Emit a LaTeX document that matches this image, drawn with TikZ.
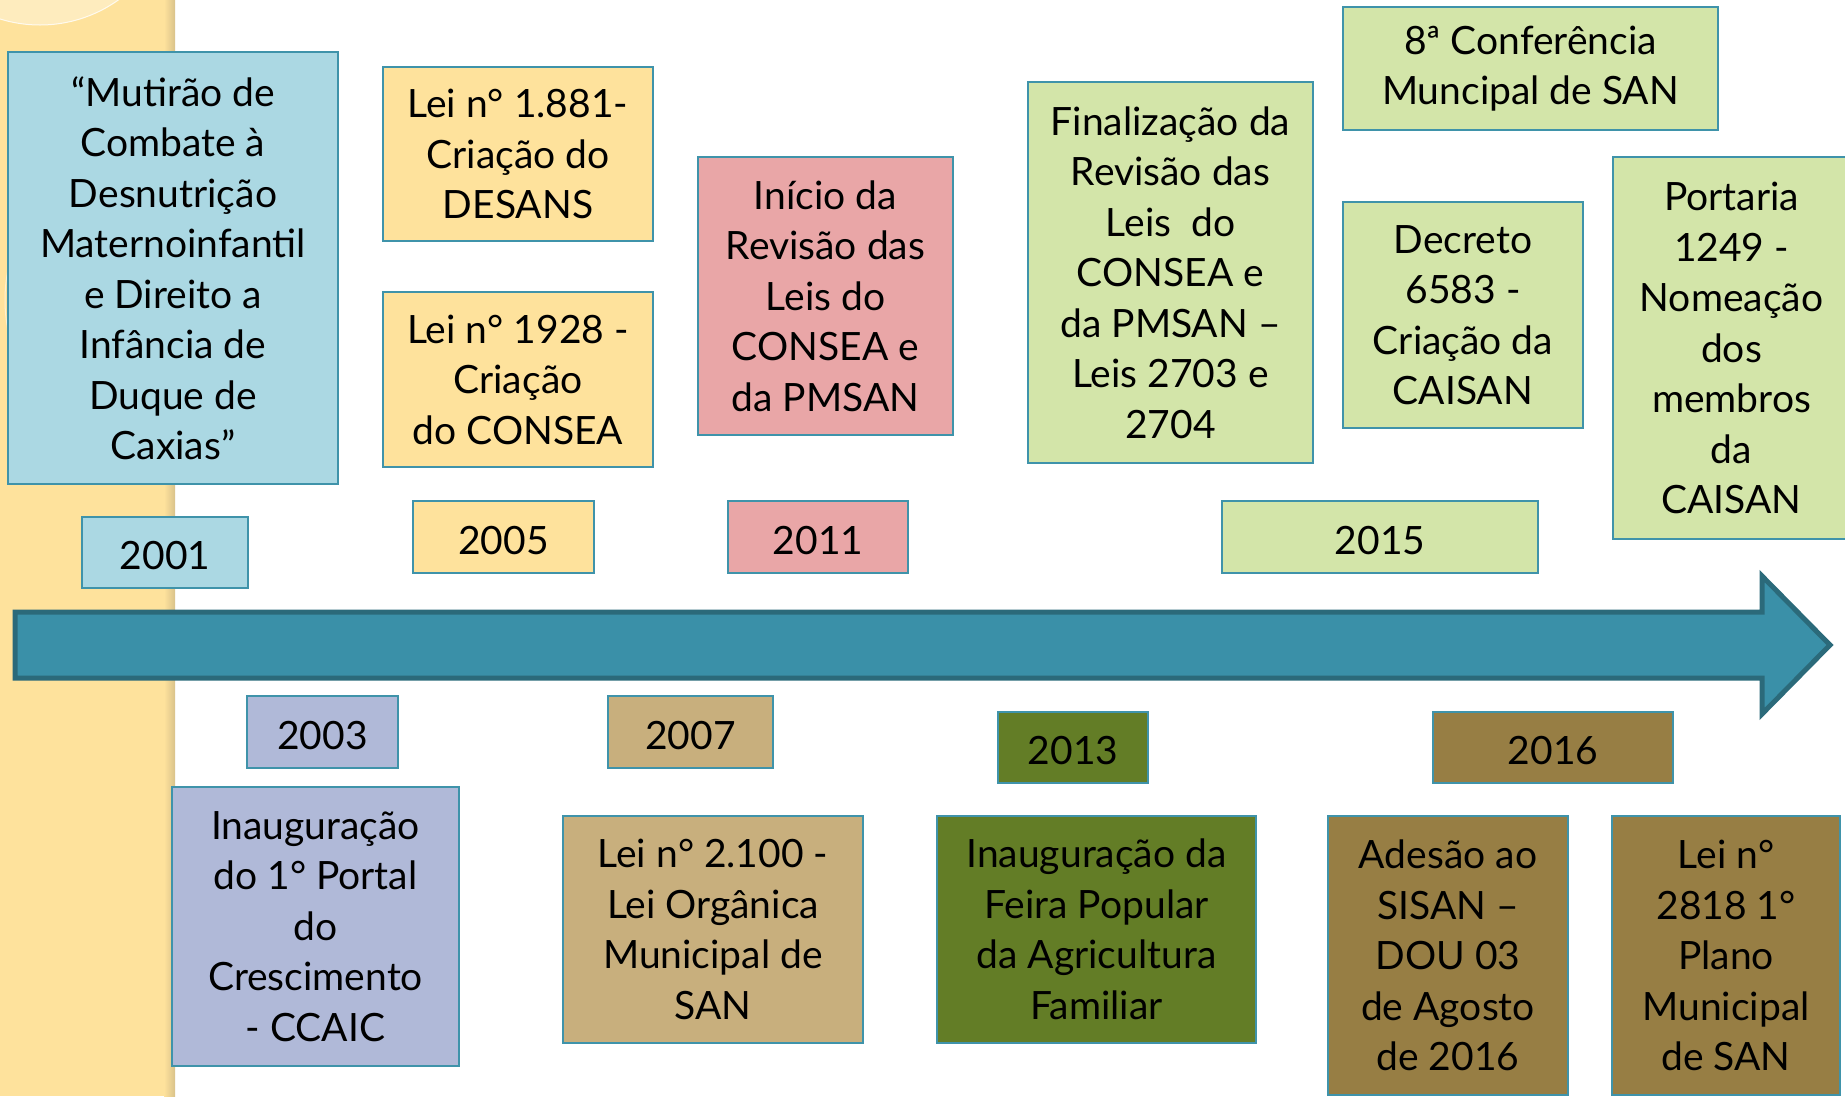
\documentclass[tikz,border=0pt]{standalone}
\usepackage{fontspec}
\setmainfont{Lato}
\usetikzlibrary{calc}
\definecolor{ltblue}{HTML}{ABD8E3}
\definecolor{yel}{HTML}{FEE29C}
\definecolor{strip}{HTML}{FEE29C}
\definecolor{stripdark}{HTML}{D9C28A}
\definecolor{pink}{HTML}{E9A6A7}
\definecolor{ltgreen}{HTML}{D3E5A9}
\definecolor{lav}{HTML}{B0B9D8}
\definecolor{tan}{HTML}{C8AF7D}
\definecolor{dkgreen}{HTML}{637D26}
\definecolor{olive}{HTML}{977E44}
\definecolor{bord}{HTML}{3F93AA}
\definecolor{arrowfill}{HTML}{3A90A8}
\definecolor{arrowline}{HTML}{2B6A7A}
\newcommand\bodyfont{\fontsize{39}{50.5}\selectfont}
\tikzset{
  evbox/.style={draw=bord, line width=2.5pt, align=center, inner sep=0pt, font=\bodyfont, text=black},
  yearbox/.style={evbox, text height=34pt, text depth=0pt}
}
\begin{document}
\begin{tikzpicture}[x=1pt,y=-1pt]
\useasboundingbox (0,0) rectangle (1845,1096);
\fill[white] (0,0) rectangle (1845,1096);
% left decorative strip
\fill[strip] (0,0) rectangle (175,1096);
\shade[left color=strip, right color=stripdark] (164,0) rectangle (175,1096);
\begin{scope}
\clip (0,0) rectangle (170,1096);
\fill[white, opacity=0.35] (40,-110) circle (135);
\draw[white, line width=1pt, opacity=0.8] (40,-110) circle (135);
\draw[white, line width=1pt, opacity=0.5] (160,300) circle (155);
\end{scope}
% main arrow
\draw[fill=arrowfill, draw=arrowline, line width=5pt, line join=miter]
  (15,612) -- (1762,612) -- (1762,576) -- (1830,645) -- (1762,714) -- (1762,678) -- (15,678) -- cycle;
% upper boxes
\node[evbox, fill=ltblue, minimum width=330, minimum height=432] (mutirao) at (173,268)
  {“Mutirão de\\Combate à\\Desnutrição\\Maternoinfantil\\e Direito a\\Infância de\\Duque de\\Caxias”};
\node[yearbox, fill=ltblue, minimum width=166, minimum height=71] (y2001) at (165,552.5) {2001};
\node[evbox, fill=yel, minimum width=270, minimum height=174] (lei1881) at (518,154)
  {Lei n° 1.881-\\Criação do\\DESANS};
\node[evbox, fill=yel, minimum width=270, minimum height=175] (lei1928) at (518,379.5)
  {Lei n° 1928 -\\Criação\\do CONSEA};
\node[yearbox, fill=yel, minimum width=181, minimum height=72] (y2005) at (503.5,537) {2005};
\node[evbox, fill=pink, minimum width=255, minimum height=278] (inicio) at (825.5,296)
  {Início da\\Revisão das\\Leis do\\CONSEA e\\da PMSAN};
\node[yearbox, fill=pink, minimum width=180, minimum height=72] (y2011) at (818,537) {2011};
\node[evbox, fill=ltgreen, minimum width=285, minimum height=381] (final) at (1170.5,272.5)
  {Finalização da\\Revisão das\\Leis\ \ do\\CONSEA e\\da PMSAN –\\Leis 2703 e\\2704};
\node[evbox, fill=ltgreen, minimum width=375, minimum height=123] (conf) at (1530.5,68.5)
  {8ª Conferência\\Muncipal de SAN};
\node[evbox, fill=ltgreen, minimum width=240, minimum height=226] (decreto) at (1463,315)
  {Decreto\\6583 -\\Criação da\\CAISAN};
\node[evbox, fill=ltgreen, minimum width=237, minimum height=382] (portaria) at (1731.5,348)
  {Portaria\\1249 -\\Nomeação\\dos\\membros\\da\\CAISAN};
\node[yearbox, fill=ltgreen, minimum width=316, minimum height=72] (y2015) at (1380,537) {2015};
% lower boxes
\node[yearbox, fill=lav, minimum width=151, minimum height=72] (y2003) at (322.5,732) {2003};
\node[evbox, fill=lav, minimum width=287, minimum height=279] (inaug) at (315.5,926.5)
  {Inauguração\\do 1° Portal\\do\\Crescimento\\- CCAIC};
\node[yearbox, fill=tan, minimum width=165, minimum height=72] (y2007) at (690.5,732) {2007};
\node[evbox, fill=tan, minimum width=300, minimum height=227] (lei2100) at (713,929.5)
  {Lei n° 2.100 -\\Lei Orgânica\\Municipal de\\SAN};
\node[yearbox, fill=dkgreen, minimum width=150, minimum height=71] (y2013) at (1073,747.5) {2013};
\node[evbox, fill=dkgreen, minimum width=319, minimum height=227] (feira) at (1096.5,929.5)
  {Inauguração da\\Feira Popular\\da Agricultura\\Familiar};
\node[yearbox, fill=olive, minimum width=240, minimum height=71] (y2016) at (1553,747.5) {2016};
\node[evbox, fill=olive, minimum width=240, minimum height=279] (adesao) at (1448,955.5)
  {Adesão ao\\SISAN –\\DOU 03\\de Agosto\\de 2016};
\node[evbox, fill=olive, minimum width=228, minimum height=279] (lei2818) at (1726,955.5)
  {Lei n°\\2818 1°\\Plano\\Municipal\\de SAN};
\end{tikzpicture}
\end{document}
